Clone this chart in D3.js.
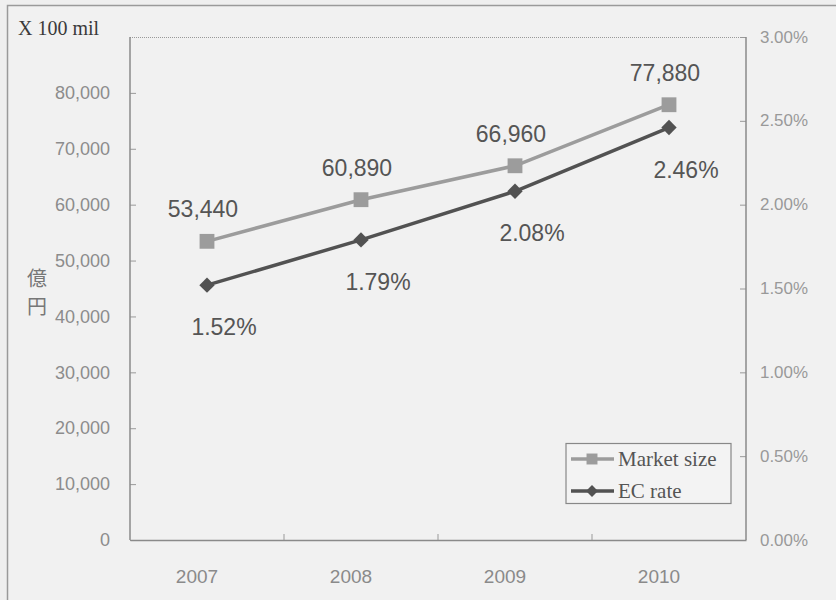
<!DOCTYPE html>
<html><head><meta charset="utf-8">
<script src="https://cdn.jsdelivr.net/npm/d3@7"></script>
<style>
html,body{margin:0;padding:0;background:#efefef;}
svg{display:block;}
</style></head>
<body>
<svg id="chart" width="836" height="600"></svg>
<script>
const years = ["2007", "2008", "2009", "2010"];
const marketSize = [53440, 60890, 66960, 77880];
const ecRate = [1.52, 1.79, 2.08, 2.46];
const leftTicks = [0, 10000, 20000, 30000, 40000, 50000, 60000, 70000, 80000];
const rightTicks = [0, 0.5, 1.0, 1.5, 2.0, 2.5, 3.0];
const seriesNames = ["Market size", "EC rate"];

const svg = d3.select("#chart");
const W = 836, H = 600;
const m = {left: 130, right: 746, top: 37, bottom: 540};

svg.append("rect").attr("width", W).attr("height", H).attr("fill", "#efefef");
// outer frame
svg.append("rect").attr("x", 7.5).attr("y", 5.5).attr("width", 840).attr("height", 610)
  .attr("fill", "#f1f1f1").attr("stroke", "#9a9a9a").attr("stroke-width", 1.5);

const x = d3.scaleBand().domain(years).range([m.left, m.right]);
const yL = d3.scaleLinear().domain([0, 90000]).range([m.bottom, m.top]);
const yR = d3.scaleLinear().domain([0, 3]).range([m.bottom, m.top]);

// plot area top dotted border
svg.append("line").attr("x1", m.left).attr("x2", m.right).attr("y1", m.top + 0.5).attr("y2", m.top + 0.5)
  .attr("stroke", "#999").attr("stroke-dasharray", "1,1");

// left axis
const gL = svg.append("g").attr("transform", `translate(${m.left},0)`)
  .call(d3.axisRight(yL).tickValues(leftTicks).tickSize(6).tickFormat(d3.format(",")));
gL.select(".domain").remove();
gL.selectAll(".tick line").attr("stroke", "#999");
gL.selectAll(".tick text").attr("x", -20).attr("text-anchor", "end")
  .attr("font-family", "Liberation Sans, Arial, sans-serif").attr("font-size", 18).attr("fill", "#8c8c8c");
svg.append("line").attr("x1", m.left).attr("x2", m.left).attr("y1", m.top).attr("y2", m.bottom)
  .attr("stroke", "#8a8a8a").attr("stroke-width", 1.5);

// right axis
const gR = svg.append("g").attr("transform", `translate(${m.right},0)`)
  .call(d3.axisLeft(yR).tickValues(rightTicks).tickSize(6).tickFormat(d => d3.format(".2f")(d) + "%"));
gR.select(".domain").remove();
gR.selectAll(".tick line").attr("stroke", "#999");
gR.selectAll(".tick text").attr("x", 14).attr("text-anchor", "start")
  .attr("font-family", "Liberation Sans, Arial, sans-serif").attr("font-size", 16).attr("fill", "#999")
  .attr("textLength", 48).attr("lengthAdjust", "spacingAndGlyphs");
svg.append("line").attr("x1", m.right).attr("x2", m.right).attr("y1", m.top).attr("y2", m.bottom)
  .attr("stroke", "#8a8a8a").attr("stroke-width", 1.5);

// bottom axis
const gB = svg.append("g").attr("transform", `translate(0,${m.bottom})`)
  .call(d3.axisTop(x).tickSize(0));
gB.select(".domain").attr("stroke", "#8a8a8a").attr("stroke-width", 1.5);
gB.selectAll(".tick text").attr("y", 36).attr("dx", -10).attr("dy", "0.35em")
  .attr("font-family", "Liberation Sans, Arial, sans-serif").attr("font-size", 19).attr("fill", "#8a8a8a");
// category separators
svg.append("g").selectAll("line").data(years.slice(1)).join("line")
  .attr("x1", d => x(d)).attr("x2", d => x(d)).attr("y1", m.bottom).attr("y2", m.bottom - 6)
  .attr("stroke", "#999");

// title & unit
svg.append("text").attr("x", 18).attr("y", 35).text("X 100 mil")
  .attr("font-family", "Liberation Serif, Times New Roman, serif").attr("font-size", 20).attr("fill", "#3a3a3a");
svg.append("text").attr("x", 37).attr("y", 286).attr("text-anchor", "middle").text("億")
  .attr("font-family", "Noto Sans CJK JP, sans-serif").attr("font-size", 20).attr("fill", "#777");
svg.append("text").attr("x", 37).attr("y", 314).attr("text-anchor", "middle").text("円")
  .attr("font-family", "Noto Sans CJK JP, sans-serif").attr("font-size", 20).attr("fill", "#777");

const cx = d => x(d) + x.bandwidth() / 2;
const mkColor = "#9c9c9c", ecColor = "#525252";

// market line
const mData = years.map((y, i) => ({y, v: marketSize[i]}));
svg.append("path").datum(mData)
  .attr("d", d3.line().x(d => cx(d.y)).y(d => yL(d.v)))
  .attr("fill", "none").attr("stroke", mkColor).attr("stroke-width", 3.5);
svg.append("g").selectAll("path").data(mData).join("path")
  .attr("transform", d => `translate(${cx(d.y)},${yL(d.v)})`)
  .attr("d", d3.symbol(d3.symbolSquare, 220)).attr("fill", mkColor);

// EC line
const eData = years.map((y, i) => ({y, v: ecRate[i]}));
svg.append("path").datum(eData)
  .attr("d", d3.line().x(d => cx(d.y)).y(d => yR(d.v)))
  .attr("fill", "none").attr("stroke", ecColor).attr("stroke-width", 3.5);
svg.append("g").selectAll("path").data(eData).join("path")
  .attr("transform", d => `translate(${cx(d.y)},${yR(d.v)})`)
  .attr("d", d3.symbol(d3.symbolDiamond2, 150)).attr("fill", ecColor);

// labels
svg.append("g").selectAll("text").data(mData).join("text")
  .attr("x", d => cx(d.y) - 4).attr("y", d => yL(d.v) - 32).attr("dy", "0.35em")
  .attr("text-anchor", "middle").text(d => d3.format(",")(d.v))
  .attr("font-family", "Liberation Sans, Arial, sans-serif").attr("font-size", 23).attr("fill", "#555");
svg.append("g").selectAll("text").data(eData).join("text")
  .attr("x", d => cx(d.y) + 17).attr("y", d => yR(d.v) + 42).attr("dy", "0.35em")
  .attr("text-anchor", "middle").text(d => d3.format(".2f")(d.v) + "%")
  .attr("font-family", "Liberation Sans, Arial, sans-serif").attr("font-size", 23).attr("fill", "#555");

// legend
const lg = svg.append("g");
lg.append("rect").attr("x", 566).attr("y", 443.5).attr("width", 165).attr("height", 60)
  .attr("fill", "#f3f3f3").attr("stroke", "#888").attr("stroke-width", 1.2);
const lItems = [{n: seriesNames[0], c: mkColor, s: d3.symbolSquare, sz: 120},
                {n: seriesNames[1], c: ecColor, s: d3.symbolDiamond2, sz: 90}];
lItems.forEach((it, i) => {
  const yy = 459 + i * 32;
  lg.append("line").attr("x1", 571).attr("x2", 614).attr("y1", yy).attr("y2", yy)
    .attr("stroke", it.c).attr("stroke-width", 3.5);
  lg.append("path").attr("transform", `translate(592,${yy})`).attr("d", d3.symbol(it.s, it.sz)).attr("fill", it.c);
  lg.append("text").attr("x", 618).attr("y", yy).attr("dy", "0.35em").text(it.n)
    .attr("font-family", "Liberation Serif, Times New Roman, serif").attr("font-size", 21).attr("fill", "#555");
});
</script>
</body></html>
